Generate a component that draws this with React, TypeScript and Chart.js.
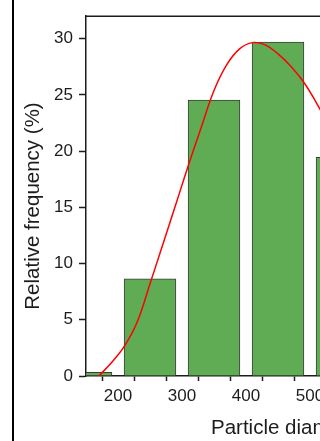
import { useEffect, useRef } from "react";
import { Chart, registerables } from "chart.js";

Chart.register(...registerables);

// Histogram bins (centre of each 100 nm class) and their relative frequency in %
const binCentres = [150, 250, 350, 450, 550];
const binFrequency = [0.33, 8.65, 24.55, 29.7, 19.45];

// Fitted distribution curve
const fitDiameter = [170, 190, 210, 230, 250, 270, 290, 310, 330, 350, 370, 390, 410, 430, 450, 470, 490, 510, 530, 550];
const fitFrequency = [0, 1.2, 2.65, 4.8, 8.2, 11.7, 15.2, 18.75, 22.1, 25.4, 27.7, 29.1, 29.65, 29.45, 28.65, 27.55, 26.15, 24.3, 22.2, 19.9];

// Axis ticks (minor ticks every 50, labels every 100)
const xTickValues = [150, 200, 250, 300, 350, 400, 450, 500, 550, 600, 650, 700];
const yTickValues = [0, 5, 10, 15, 20, 25, 30];

const xTitle = "Particle diameter (nm)";
const yTitle = "Relative frequency (%)";

const FONT = '"Liberation Sans", Arial, sans-serif';
const INK = "#1c1c1c";

const frameAndTitles = {
  id: "frameAndTitles",
  afterDraw(chart: any) {
    const { ctx, chartArea } = chart;
    ctx.save();
    ctx.strokeStyle = INK;
    ctx.lineWidth = 1.5;
    ctx.beginPath();
    ctx.moveTo(chartArea.left, chartArea.top);
    ctx.lineTo(chartArea.right, chartArea.top);
    ctx.lineTo(chartArea.right, chartArea.bottom);
    ctx.stroke();

    ctx.fillStyle = INK;
    ctx.font = `20.5px ${FONT}`;
    ctx.textBaseline = "alphabetic";
    ctx.textAlign = "left";
    ctx.fillText(xTitle, 211, 434);

    ctx.translate(39, 206);
    ctx.rotate(-Math.PI / 2);
    ctx.textAlign = "center";
    ctx.fillText(yTitle, 0, 0);
    ctx.restore();
  },
};

export default function App() {
  const canvasRef = useRef<HTMLCanvasElement | null>(null);

  useEffect(() => {
    const canvas = canvasRef.current;
    if (!canvas) return;

    const chart = new Chart(canvas, {
      type: "bar",
      data: {
        datasets: [
          {
            type: "line",
            data: fitDiameter.map((x, i) => ({ x, y: fitFrequency[i] })),
            borderColor: "#ff0000",
            borderWidth: 1.5,
            pointRadius: 0,
            tension: 0.4,
            fill: false,
            order: 0,
          } as any,
          {
            type: "bar",
            data: binCentres.map((x, i) => ({ x, y: binFrequency[i] })),
            backgroundColor: "#5fac55",
            borderColor: "#3d3d3d",
            borderWidth: 1,
            barThickness: "flex",
            categoryPercentage: 1,
            barPercentage: 0.81,
            order: 1,
          } as any,
        ],
      },
      options: {
        responsive: false,
        animation: false,
        devicePixelRatio: 1,
        layout: { padding: { top: 14, right: 22, left: 0, bottom: 0 } },
        plugins: {
          legend: { display: false },
          tooltip: { enabled: false },
        },
        scales: {
          x: {
            type: "linear",
            min: 150,
            max: 700,
            offset: false,
            afterBuildTicks: (s: any) => {
              s.ticks = xTickValues.map((value) => ({ value }));
            },
            afterFit: (s: any) => {
              s.height = 65;
            },
            grid: {
              display: true,
              drawOnChartArea: false,
              drawTicks: true,
              tickLength: 5,
              tickWidth: 1.5,
              tickColor: INK,
            },
            border: { display: true, color: INK, width: 1.5 },
            ticks: {
              autoSkip: false,
              maxRotation: 0,
              padding: 5,
              color: INK,
              font: { family: FONT, size: 17 },
              callback: (v: any) => (Number(v) % 100 === 0 ? String(v) : ""),
            },
          },
          y: {
            type: "linear",
            min: 0,
            max: 32,
            afterBuildTicks: (s: any) => {
              s.ticks = yTickValues.map((value) => ({ value }));
            },
            afterFit: (s: any) => {
              s.width = 86;
            },
            grid: {
              display: true,
              drawOnChartArea: false,
              drawTicks: true,
              tickLength: 7,
              tickWidth: 1.5,
              tickColor: INK,
            },
            border: { display: true, color: INK, width: 1.5 },
            ticks: {
              padding: 6,
              color: INK,
              font: { family: FONT, size: 17 },
            },
          },
        },
      } as any,
      plugins: [frameAndTitles],
    });

    return () => chart.destroy();
  }, []);

  return (
    <div
      style={{
        position: "absolute",
        left: 0,
        top: 0,
        width: 320,
        height: 441,
        overflow: "hidden",
        background: "#fff",
      }}
    >
      <div
        style={{
          position: "absolute",
          left: 12,
          top: 0,
          width: 2,
          height: 441,
          background: "#000",
        }}
      />
      <canvas
        ref={canvasRef}
        width={460}
        height={441}
        style={{ position: "absolute", left: 0, top: 0, display: "block" }}
      />
    </div>
  );
}
